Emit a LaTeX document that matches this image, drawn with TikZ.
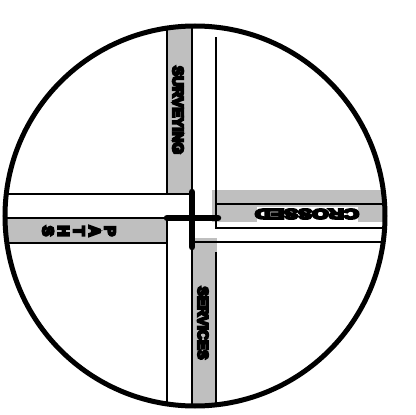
\documentclass[tikz,border=0pt]{standalone}
\usepackage{fontspec}
\setmainfont{Liberation Sans}
\newfontfamily\heavyfont{Liberation Sans}[UprightFeatures={FakeBold=14},BoldFeatures={FakeBold=14}]
\begin{document}
\begin{tikzpicture}[x=1pt,y=-1pt,
  streetfill/.style={fill=black!25},
  curb/.style={draw=black,line width=2pt},
  crossbar/.style={draw=black,line width=6.5pt,line cap=round},
  rim/.style={draw=black,line width=5pt},
  label/.style={inner sep=0pt,font=\heavyfont\bfseries\fontsize{15}{15}\selectfont}]
\useasboundingbox (0,0) rectangle (416,415);
\coordinate (c) at (195,216);
\begin{scope}
  \clip (c) circle (189);
  % grey street bands
  \fill[streetfill] (167,0) rectangle (192,194);
  \fill[streetfill] (0,217) rectangle (167,243);
  \fill[streetfill] (212,190) rectangle (416,222);
  \fill[streetfill] (193,238) rectangle (217,415);
  \fill[white] (257,207) rectangle (358,222);
  % curb lines
  \draw[curb] (167,0) -- (167,194);
  \draw[curb] (0,194) -- (192,194);
  \draw[curb] (192,0) -- (192,415);
  \draw[curb] (216,37) -- (216,228) -- (416,228);
  \draw[curb] (217,204) -- (416,204);
  \draw[curb] (193,242) -- (416,242);
  \draw[curb] (0,218) -- (167,218);
  \draw[curb] (0,243) -- (167,243);
  \draw[curb] (167,218) -- (167,415);
  \draw[curb] (216,252) -- (216,415);
\end{scope}
\draw[crossbar] (192,192) -- (192,247);
\draw[crossbar] (167,218) -- (218,218);
\draw[rim] (c) circle (190);
% labels
\node[label,rotate=-90] (surv) at (178,110) {SURVEYING};
\node[label,rotate=-90,font=\heavyfont\bfseries\fontsize{14.5}{14.5}\selectfont] (serv) at (203,323) {SERVICES};
\node[label,rotate=-90,align=center,font=\heavyfont\bfseries\fontsize{15.5}{15.5}\selectfont] (paths) at (79,231) {P\\A\\T\\H\\S};
\node[label,rotate=180,font=\heavyfont\bfseries\fontsize{14}{14}\selectfont] (cross) at (307,214) {\scalebox{1.5}[1]{CROSSED}};
\end{tikzpicture}
\end{document}
